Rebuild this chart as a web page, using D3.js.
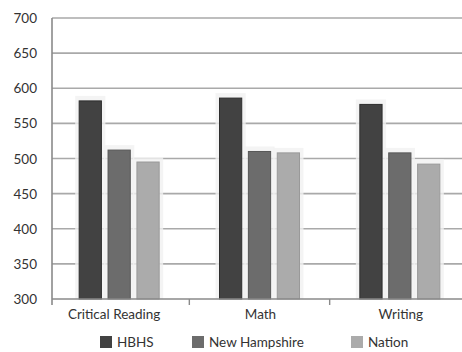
<!DOCTYPE html>
<html>
<head>
<meta charset="utf-8">
<script src="https://cdn.jsdelivr.net/npm/d3@7"></script>
<style>
  html, body { margin: 0; padding: 0; background: #fff; }
  svg text { font-family: Lato, "Open Sans", sans-serif; fill: #333; }
</style>
</head>
<body>
<svg id="chart" width="462" height="352"></svg>
<script>
// SAT average scores by section
const categories = ["Critical Reading", "Math", "Writing"];
const seriesNames = ["HBHS", "New Hampshire", "Nation"];
const hbhs = [582, 586, 577];
const newHampshire = [512, 510, 508];
const nation = [495, 508, 492];
const yTicks = [300, 350, 400, 450, 500, 550, 600, 650, 700];
const colors = ["#424242", "#6c6c6c", "#ababab"];
const strokes = ["#2e2e2e", "#575757", "#999999"];

const seriesValues = [hbhs, newHampshire, nation];
const rows = categories.map((c, i) => ({
  category: c,
  values: seriesNames.map((s, j) => ({ series: s, idx: j, value: seriesValues[j][i] }))
}));

const svg = d3.select("#chart");
const plotLeft = 52, plotTop = 18, plotBottom = 299, plotRight = 470;

const y = d3.scaleLinear().domain([300, 700]).range([plotBottom, plotTop]);
const x0 = d3.scaleBand().domain(categories).range([plotLeft - 3, plotRight]).padding(0);
const x1 = d3.scaleBand().domain(seriesNames)
  .range([x0.bandwidth() / 2 - 40, x0.bandwidth() / 2 + 40])
  .paddingInner(0.23).paddingOuter(0);

// horizontal gridlines
svg.append("g").selectAll("line").data(yTicks.slice(1)).join("line")
  .attr("x1", plotLeft).attr("x2", 462)
  .attr("y1", d => y(d)).attr("y2", d => y(d))
  .attr("stroke", "#a9a9a9").attr("stroke-width", 1.6);

// y tick labels
svg.append("g").selectAll("text").data(yTicks).join("text")
  .attr("x", 37).attr("y", d => y(d) + 5)
  .attr("text-anchor", "end")
  .attr("font-size", 13.5)
  .text(d => d);

// bars with a faint halo
const groups = svg.append("g").selectAll("g").data(rows).join("g")
  .attr("transform", d => `translate(${x0(d.category)},0)`);

groups.selectAll("rect.halo").data(d => d.values).join("rect")
  .attr("class", "halo")
  .attr("x", d => x1(d.series) - 4)
  .attr("y", d => y(d.value) - 5)
  .attr("width", x1.bandwidth() + 8)
  .attr("height", d => y(300) - y(d.value) + 5)
  .attr("fill", "#f1f1f1").attr("opacity", 0.8);

groups.selectAll("rect.bar").data(d => d.values).join("rect")
  .attr("class", "bar")
  .attr("x", d => x1(d.series))
  .attr("y", d => y(d.value))
  .attr("width", x1.bandwidth())
  .attr("height", d => y(300) - y(d.value))
  .attr("fill", d => colors[d.idx])
  .attr("stroke", d => strokes[d.idx]).attr("stroke-width", 1);

// axes lines
svg.append("line").attr("x1", plotLeft).attr("x2", plotLeft)
  .attr("y1", plotTop).attr("y2", plotBottom + 6)
  .attr("stroke", "#8a8a8a").attr("stroke-width", 1.6);
svg.append("line").attr("x1", plotLeft).attr("x2", 462)
  .attr("y1", plotBottom).attr("y2", plotBottom)
  .attr("stroke", "#8a8a8a").attr("stroke-width", 1.6);

// category boundary ticks
svg.append("g").selectAll("line").data(categories.slice(1)).join("line")
  .attr("x1", d => x0(d)).attr("x2", d => x0(d))
  .attr("y1", plotBottom).attr("y2", plotBottom + 6)
  .attr("stroke", "#8a8a8a").attr("stroke-width", 1.4);

// category labels
svg.append("g").selectAll("text").data(categories).join("text")
  .attr("x", (d, i) => x0(d) + x0.bandwidth() / 2 + (i === 0 ? -5 : 1))
  .attr("y", 319)
  .attr("text-anchor", "middle")
  .attr("font-size", 13.5)
  .text(d => d);

// legend
const legendX = [100, 192, 351];
const legend = svg.append("g").selectAll("g").data(seriesNames).join("g")
  .attr("transform", (d, i) => `translate(${legendX[i]},336)`);
legend.append("rect").attr("width", 12).attr("height", 12)
  .attr("fill", (d, i) => colors[i]);
legend.append("text").attr("x", 17).attr("y", 11)
  .attr("font-size", 13.5)
  .text(d => d);
</script>
</body>
</html>
